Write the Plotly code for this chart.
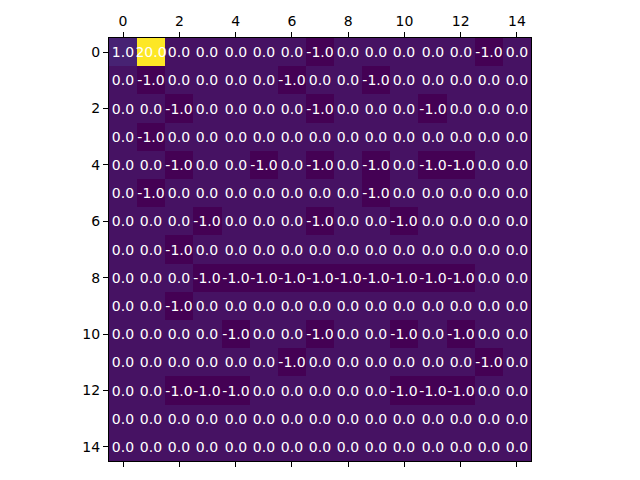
import plotly.graph_objects as go

rows = list(range(15))
cols = list(range(15))
values = [
    [1, 20, 0, 0, 0, 0, 0, -1, 0, 0, 0, 0, 0, -1, 0],
    [0, -1, 0, 0, 0, 0, -1, 0, 0, -1, 0, 0, 0, 0, 0],
    [0, 0, -1, 0, 0, 0, 0, -1, 0, 0, 0, -1, 0, 0, 0],
    [0, -1, 0, 0, 0, 0, 0, 0, 0, 0, 0, 0, 0, 0, 0],
    [0, 0, -1, 0, 0, -1, 0, -1, 0, -1, 0, -1, -1, 0, 0],
    [0, -1, 0, 0, 0, 0, 0, 0, 0, -1, 0, 0, 0, 0, 0],
    [0, 0, 0, -1, 0, 0, 0, -1, 0, 0, -1, 0, 0, 0, 0],
    [0, 0, -1, 0, 0, 0, 0, 0, 0, 0, 0, 0, 0, 0, 0],
    [0, 0, 0, -1, -1, -1, -1, -1, -1, -1, -1, -1, -1, 0, 0],
    [0, 0, -1, 0, 0, 0, 0, 0, 0, 0, 0, 0, 0, 0, 0],
    [0, 0, 0, 0, -1, 0, 0, -1, 0, 0, -1, 0, -1, 0, 0],
    [0, 0, 0, 0, 0, 0, -1, 0, 0, 0, 0, 0, 0, -1, 0],
    [0, 0, -1, -1, -1, 0, 0, 0, 0, 0, -1, -1, -1, 0, 0],
    [0, 0, 0, 0, 0, 0, 0, 0, 0, 0, 0, 0, 0, 0, 0],
    [0, 0, 0, 0, 0, 0, 0, 0, 0, 0, 0, 0, 0, 0, 0],
]
tick_vals = [0, 2, 4, 6, 8, 10, 12, 14]

fig = go.Figure(go.Heatmap(
    z=values, x=cols, y=rows,
    colorscale="Viridis", zmin=-1, zmax=20, showscale=False,
    texttemplate="%{z:.1f}",
    textfont=dict(color="white", size=14, family="DejaVu Sans"),
    hoverinfo="skip",
))

# page body has an 8px margin; figure is sized to fill the 640x480 window
OFF = 8
W, H = 640 - 2 * OFF, 480 - 2 * OFF
fig.update_layout(
    width=W, height=H,
    margin=dict(l=0, r=0, t=0, b=0),
    paper_bgcolor="white", plot_bgcolor="white",
    font=dict(family="DejaVu Sans", size=14, color="black"),
    xaxis=dict(
        domain=[(109 - OFF) / W, (531 - OFF) / W], range=[-0.5, 14.5], side="top",
        tickvals=tick_vals, ticks="outside", ticklen=5, tickcolor="black",
        showline=True, linecolor="black", linewidth=1, mirror="ticks",
        showgrid=False, zeroline=False,
    ),
    yaxis=dict(
        domain=[1 - (461 - OFF) / H, 1 - (38 - OFF) / H], range=[14.5, -0.5],
        tickvals=tick_vals, ticks="outside", ticklen=5, tickcolor="black",
        showline=True, linecolor="black", linewidth=1, mirror=True,
        showgrid=False, zeroline=False,
    ),
)
fig.write_html("out.html")
